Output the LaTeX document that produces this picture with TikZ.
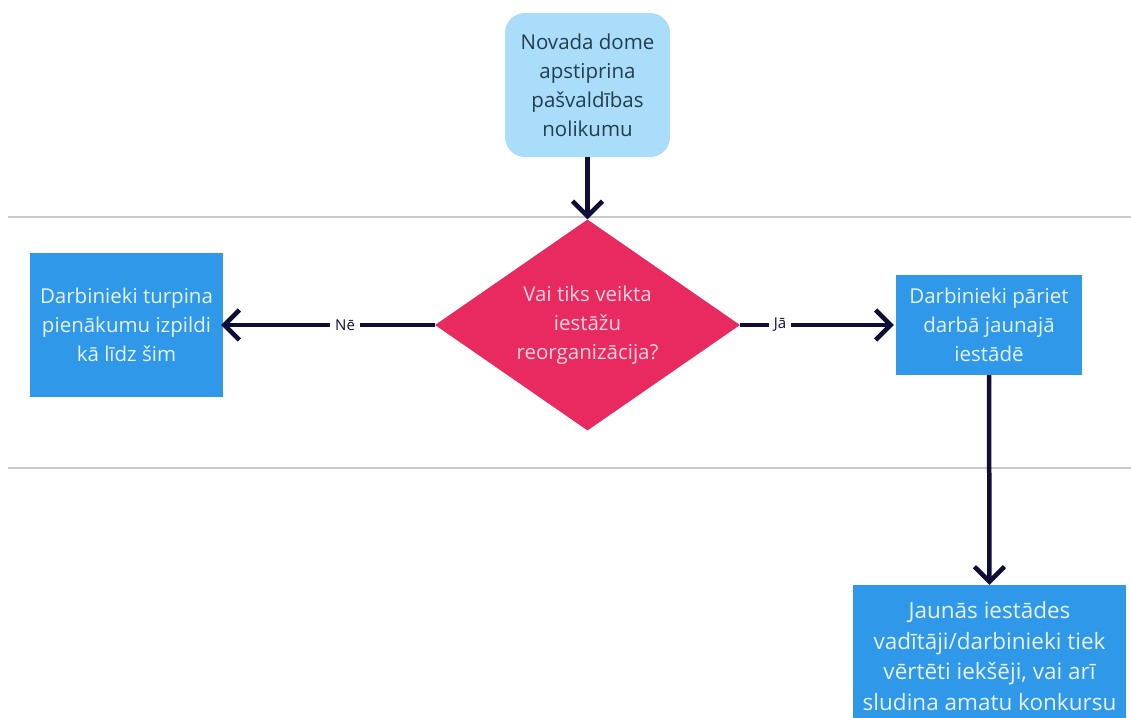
\documentclass[tikz,border=0pt]{standalone}
\usepackage{fontspec}
\setmainfont{Open Sans}
\usetikzlibrary{shapes.geometric,arrows.meta}
\definecolor{topfill}{HTML}{A9DDF9}
\definecolor{toptext}{HTML}{233E4F}
\definecolor{decfill}{HTML}{E92A60}
\definecolor{dectext}{HTML}{FAD5E0}
\definecolor{boxfill}{HTML}{3098E8}
\definecolor{boxtext}{HTML}{E6F2FC}
\definecolor{navy}{HTML}{0E0E38}
\definecolor{sep}{HTML}{C9C9C9}
\tikzset{
  every node/.style={font=\fontsize{20.5}{29}\selectfont, align=center},
  startbox/.style={rectangle, rounded corners=20pt, fill=topfill, text=toptext, minimum width=165pt, minimum height=144pt, inner sep=0pt},
  decbox/.style={diamond, fill=decfill, text=dectext, minimum width=305pt, minimum height=211pt, inner sep=0pt, aspect=1.45},
  procbox/.style={rectangle, fill=boxfill, text=boxtext, inner sep=0pt},
  conn/.style={draw=navy, line width=4.5pt, -{Straight Barb[length=15pt,width=30pt,line width=4.5pt]}},
  lbl/.style={fill=white, text=navy, font=\fontsize{15}{17}\selectfont, inner sep=5pt},
  sepline/.style={draw=sep, line width=1.2pt}
}
\begin{document}
\begin{tikzpicture}[x=1pt,y=-1pt]
\useasboundingbox (0,0) rectangle (1131,717);
\fill[white] (0,0) rectangle (1131,717);
\coordinate (s1a) at (8,217);
\coordinate (s1b) at (1131,217);
\coordinate (s2a) at (8,468);
\coordinate (s2b) at (1131,468);
\draw[sepline] (s1a) -- (s1b);
\draw[sepline] (s2a) -- (s2b);
\node[startbox] (start) at (587.5,85) {Novada dome\\apstiprina\\pašvaldības\\nolikumu};
\node[decbox] (dec) at (587.5,325) {Vai tiks veikta\\iestāžu\\reorganizācija?};
\node[procbox, minimum width=193pt, minimum height=144pt] (no) at (126.5,325) {Darbinieki turpina\\pienākumu izpildi\\kā līdz šim};
\node[procbox, minimum width=186pt, minimum height=100pt] (yes) at (989,325) {Darbinieki pāriet\\darbā jaunajā\\iestādē};
\node[procbox, minimum width=273pt, minimum height=142pt, font=\fontsize{22.5}{30.5}\selectfont] (eval) at (989.5,656) {Jaunās iestādes\\vadītāji/darbinieki tiek\\vērtēti iekšēji, vai arī\\sludina amatu konkursu};
\draw[conn] (start.south) -- (dec.north);
\draw[conn] (dec.west) -- node[lbl, pos=0.42] {Nē} ([xshift=-2pt]no.east);
\draw[conn] (dec.east) -- node[lbl, pos=0.26] {Jā} ([xshift=-2pt]yes.west);
\draw[conn] (yes.south) -- (eval.north);
\end{tikzpicture}
\end{document}
